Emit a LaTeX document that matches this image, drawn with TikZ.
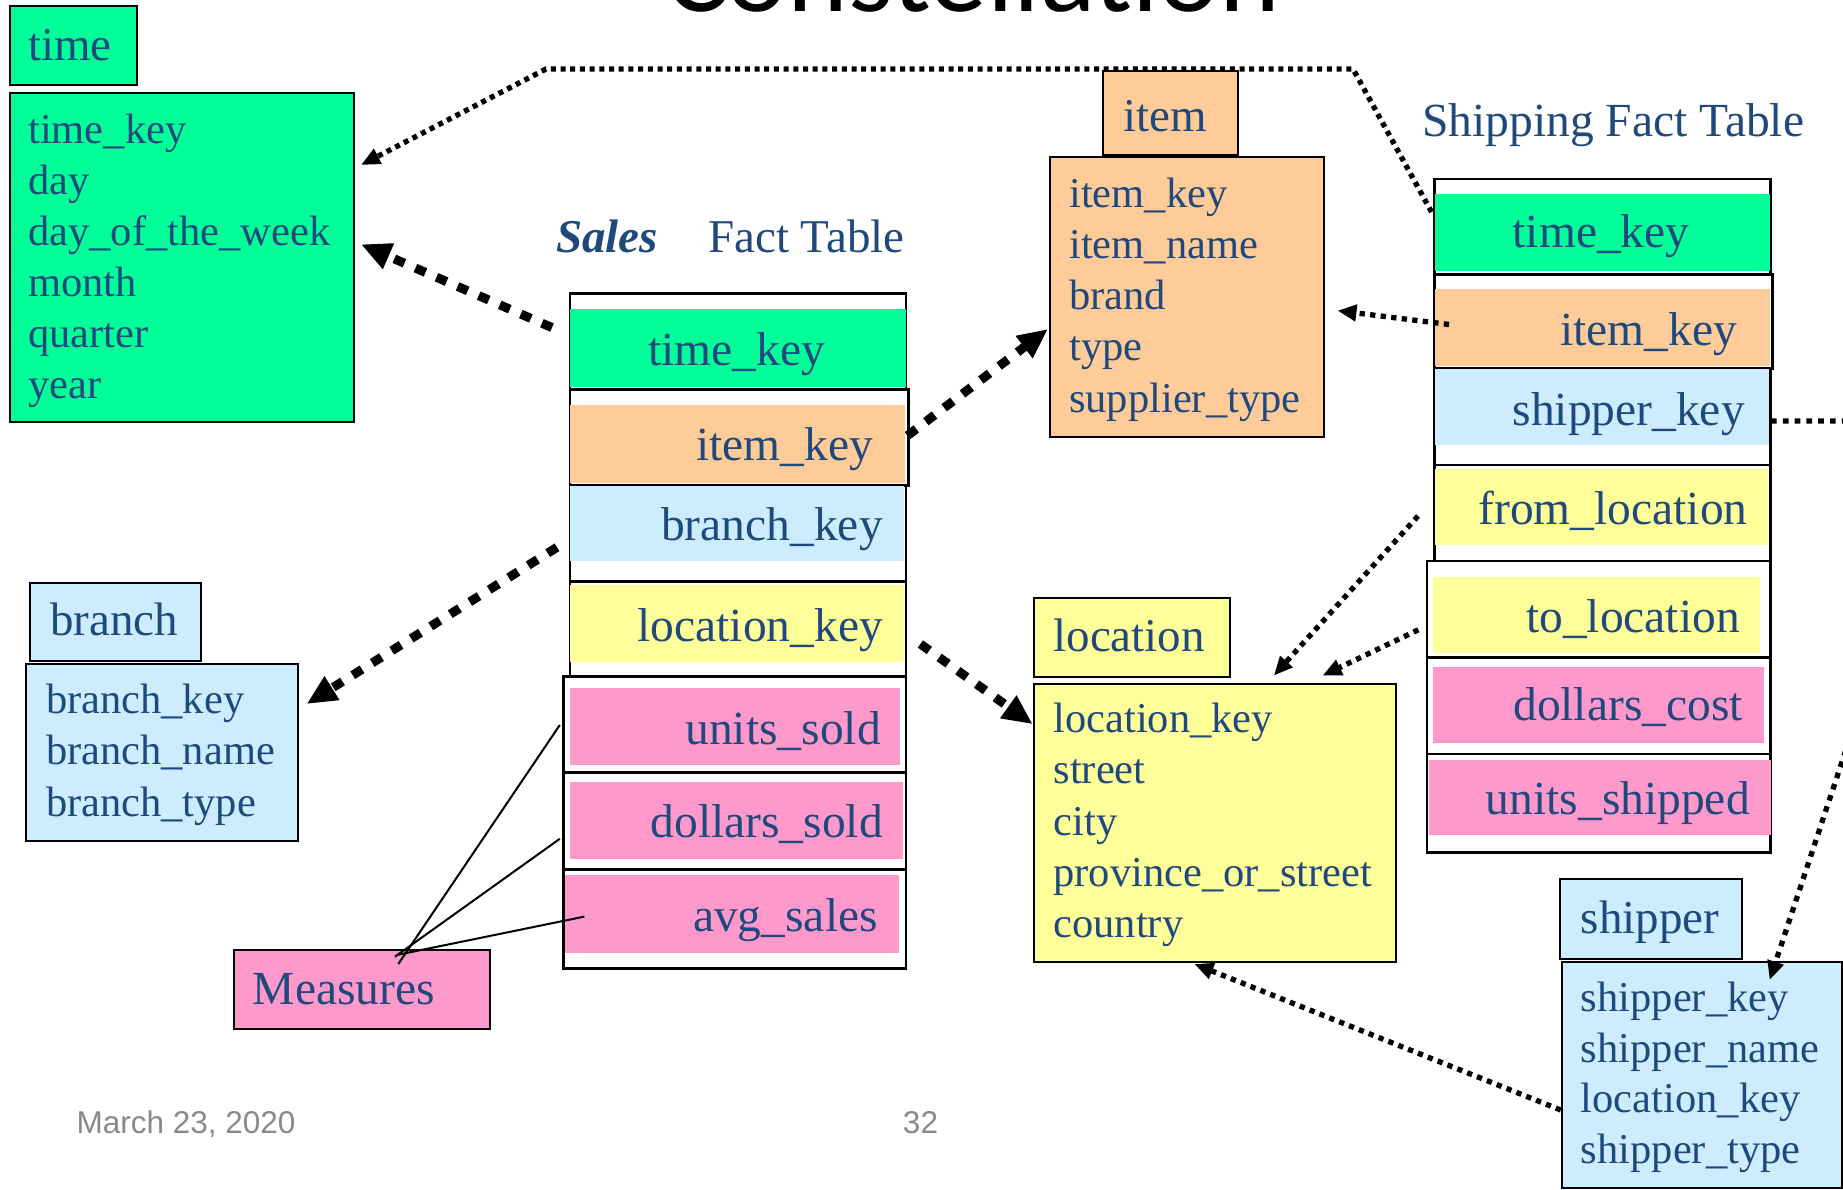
\documentclass[tikz,border=0pt]{standalone}
\usepackage{fontspec}
\setmainfont{Liberation Serif}
\newfontfamily\headfont{Carlito}
\newfontfamily\footfont{Liberation Sans}
\usetikzlibrary{arrows.meta}

\definecolor{keygreen}{RGB}{0,255,153}
\definecolor{itemorange}{RGB}{255,204,153}
\definecolor{branchblue}{RGB}{204,236,255}
\definecolor{locyellow}{RGB}{255,255,153}
\definecolor{measpink}{RGB}{255,153,204}
\definecolor{inkblue}{RGB}{31,73,125}
\definecolor{footgray}{RGB}{137,137,137}

\newcommand\fsz[1]{\fontsize{#1pt}{#1pt}\selectfont}
% rectangle node given by its corners: name, style, x1, y1, x2, y2
\newcommand\tabbox[6]{\node[#2, anchor=north west, minimum width={(#5-#3)*1pt}, minimum height={(#6-#4)*1pt}] (#1) at (#3,#4) {};}

\tikzset{
  dimbox/.style={draw=black, line width=2pt, inner sep=0pt},
  rowframe/.style={draw=black, line width=2.5pt, fill=white, inner sep=0pt},
  colband/.style={draw=none, inner sep=0pt},
  fieldtxt/.style={inner sep=0pt, text=inkblue, font=\fsz{42.5}},
  hdrtxt/.style={inner sep=0pt, text=inkblue, font=\fsz{47}},
  keytxt/.style={inner sep=0pt, text=inkblue, font=\fsz{47.5}},
  dotlink/.style={line width=5.3pt, dash pattern=on 5.3pt off 5.3pt, -{Triangle[length=19pt,width=16pt]}},
  thicklink/.style={line width=9pt, dash pattern=on 11pt off 12pt, -{Triangle[length=30pt,width=26pt]}},
  measline/.style={line width=2pt},
}

\begin{document}
\begin{tikzpicture}[x=1pt, y=-1pt]
\useasboundingbox (0,0) rectangle (1843,1189);
\clip (0,0) rectangle (1843,1189);

% slide title, only its lower edge lies inside the frame
\node[inner sep=0pt, anchor=base, font=\headfont\fsz{115.5}] (title) at (973,11) {Constellation};

% ---------- time dimension ----------
\tabbox{timeHead}{dimbox, fill=keygreen}{8.8}{4.9}{135.7}{83.7}
\tabbox{timeBody}{dimbox, fill=keygreen}{8.8}{91.7}{353}{421}
\node[hdrtxt, anchor=base west] (timeName) at (28,60.6) {time};
\foreach \w [count=\i from 0] in {time\_key,day,day\_of\_the\_week,month,quarter,year}
  \node[fieldtxt, anchor=base west] (timeF\i) at (28,143+51*\i) {\w};

% ---------- item dimension ----------
\tabbox{itemHead}{dimbox, fill=itemorange}{1101.5}{70}{1237}{154}
\tabbox{itemBody}{dimbox, fill=itemorange}{1048.6}{156.4}{1322.6}{435.6}
\node[hdrtxt, anchor=base west] (itemName) at (1123.5,131) {item};
\foreach \w [count=\i from 0] in {item\_key,item\_name,brand,type,supplier\_type}
  \node[fieldtxt, anchor=base west] (itemF\i) at (1069,207.6+51.1*\i) {\w};

% ---------- branch dimension ----------
\tabbox{branchHead}{dimbox, fill=branchblue}{28.8}{582}{199.7}{659.7}
\tabbox{branchBody}{dimbox, fill=branchblue}{24.7}{663.4}{296.6}{839.5}
\node[hdrtxt, anchor=base west] (branchName) at (50,635) {branch};
\foreach \w [count=\i from 0] in {branch\_key,branch\_name,branch\_type}
  \node[fieldtxt, anchor=base west] (branchF\i) at (45.8,713.5+51.25*\i) {\w};

% ---------- location dimension ----------
\tabbox{locHead}{dimbox, fill=locyellow}{1033.3}{597}{1228.5}{675.6}
\tabbox{locBody}{dimbox, fill=locyellow}{1033.3}{683.2}{1395}{961}
\node[hdrtxt, anchor=base west] (locName) at (1053.3,651) {location};
\foreach \w [count=\i from 0] in {location\_key,street,city,province\_or\_street,country}
  \node[fieldtxt, anchor=base west] (locF\i) at (1053.3,732.5+51.25*\i) {\w};

% ---------- shipper dimension ----------
\tabbox{shipHead}{dimbox, fill=branchblue}{1559}{878}{1741}{957.6}
\tabbox{shipBody}{dimbox, fill=branchblue}{1560.7}{960.6}{1841}{1187}
\node[hdrtxt, anchor=base west] (shipName) at (1580.7,933) {shipper};
\foreach \w [count=\i from 0] in {shipper\_key,shipper\_name,location\_key,shipper\_type}
  \node[fieldtxt, anchor=base west] (shipF\i) at (1580.7,1011.5+50.7*\i) {\w};

% ---------- sales fact table ----------
\node[inner sep=0pt, text=inkblue, font=\fsz{47}\bfseries\itshape, anchor=base west] (salesWord) at (556,252) {Sales};
\node[inner sep=0pt, text=inkblue, font=\fsz{47}, anchor=base west] (salesTitle) at (708,252) {Fact Table};

\tabbox{sA}{rowframe}{568.6}{292}{904.5}{388}
\tabbox{sB}{rowframe}{568.6}{388}{907}{484}
\tabbox{sC}{rowframe}{568.6}{484}{904.5}{580}
\tabbox{sD}{rowframe}{568.6}{580}{904.5}{675}
\tabbox{sE}{rowframe}{562}{675}{904.5}{771}
\tabbox{sF}{rowframe}{562}{771}{904.5}{868}
\tabbox{sG}{rowframe}{562}{868}{904.5}{967}

\tabbox{sTime}{colband, fill=keygreen}{570}{309}{905.7}{386.4}
\tabbox{sItem}{colband, fill=itemorange}{570}{404.5}{905}{483}
\tabbox{sBranch}{colband, fill=branchblue}{570}{485.5}{904}{561}
\tabbox{sLoc}{colband, fill=locyellow}{570}{585}{904}{662}
\tabbox{sUnits}{colband, fill=measpink}{570}{688}{900}{765}
\tabbox{sDollars}{colband, fill=measpink}{570}{782}{903}{858.5}
\tabbox{sAvg}{colband, fill=measpink}{565}{875}{899}{952.6}

\node[keytxt, anchor=base] (sTimeT) at (736.5,365.5) {time\_key};
\node[keytxt, anchor=base east] (sItemT) at (873,460) {item\_key};
\node[keytxt, anchor=base east] (sBranchT) at (883,540) {branch\_key};
\node[keytxt, anchor=base east] (sLocT) at (883,641.4) {location\_key};
\node[keytxt, anchor=base east] (sUnitsT) at (881,744) {units\_sold};
\node[keytxt, anchor=base east] (sDollarsT) at (883,837) {dollars\_sold};
\node[keytxt, anchor=base east] (sAvgT) at (878,931) {avg\_sales};

% ---------- shipping fact table ----------
\node[keytxt, anchor=base west] (shipTitle) at (1422,136.4) {Shipping Fact Table};

\tabbox{hA}{rowframe}{1433}{177.5}{1769.3}{273}
\tabbox{hB}{rowframe}{1433}{273}{1771}{367}
\tabbox{hC}{rowframe}{1433}{367}{1769}{463.6}
\tabbox{hD}{rowframe}{1433}{463.6}{1769}{559.6}
\tabbox{hE}{rowframe}{1425.7}{559.6}{1769}{656.4}
\tabbox{hF}{rowframe}{1425.7}{656.4}{1769}{752.8}
\tabbox{hG}{rowframe}{1425.7}{752.8}{1769}{851}

\tabbox{hTime}{colband, fill=keygreen}{1434.5}{193.6}{1770}{270.3}
\tabbox{hItem}{colband, fill=itemorange}{1434.5}{289}{1770}{365.8}
\tabbox{hShipper}{colband, fill=branchblue}{1434.5}{369}{1769}{445.2}
\tabbox{hFrom}{colband, fill=locyellow}{1434.5}{469}{1767.7}{545}
\tabbox{hTo}{colband, fill=locyellow}{1433}{577}{1760}{652.8}
\tabbox{hCost}{colband, fill=measpink}{1433}{666.5}{1764}{742.3}
\tabbox{hUnits}{colband, fill=measpink}{1429}{759.3}{1771}{835}

\node[keytxt, anchor=base] (hTimeT) at (1601,247.8) {time\_key};
\node[keytxt, anchor=base east] (hItemT) at (1737.3,345) {item\_key};
\node[keytxt, anchor=base east] (hShipperT) at (1745,425.5) {shipper\_key};
\node[keytxt, anchor=base east] (hFromT) at (1747.7,524) {from\_location};
\node[keytxt, anchor=base east] (hToT) at (1740,632) {to\_location};
\node[keytxt, anchor=base east] (hCostT) at (1743,720.7) {dollars\_cost};
\node[keytxt, anchor=base east] (hUnitsT) at (1750,814) {units\_shipped};

% ---------- measures callout ----------
\tabbox{measures}{dimbox, fill=measpink}{233}{949.3}{488.7}{1028}
\node[keytxt, anchor=base west] (measuresT) at (252.6,1004) {Measures};
\coordinate (mTip1) at (398.3,964);
\coordinate (mTip2) at (395,956.7);
\coordinate (mTip3) at (396.7,955);
\coordinate (mUnits) at (559.8,725);
\coordinate (mDollars) at (559.8,838.8);
\coordinate (mAvg) at (584.4,916.6);
\draw[measline] (mTip1) -- (mUnits);
\draw[measline] (mTip2) -- (mDollars);
\draw[measline] (mTip3) -- (mAvg);

% ---------- foreign key links ----------
% shipping time_key -> time
\coordinate (hTimeOut) at (1431.5,212);
\coordinate (topRight) at (1353,69);
\coordinate (topLeft) at (546,69);
\coordinate (timeIn1) at (361,165);
\draw[dotlink, dash pattern=on 5pt off 4.7pt] (hTimeOut) -- (topRight) -- (topLeft) -- (timeIn1);

% sales time_key -> time
\coordinate (sTimeOut) at (552,327.6);
\coordinate (timeIn2) at (361,244.3);
\draw[thicklink] (sTimeOut) -- (timeIn2);

% sales item_key -> item
\coordinate (sItemOut) at (907.5,435.6);
\coordinate (itemIn1) at (1048,329);
\draw[thicklink] (sItemOut) -- (itemIn1);

% shipping item_key -> item
\coordinate (hItemOut) at (1449,324.5);
\coordinate (itemIn2) at (1337.5,310.6);
\draw[dotlink] (hItemOut) -- (itemIn2);

% sales branch_key -> branch
\coordinate (sBranchOut) at (557,547.3);
\coordinate (branchIn) at (306.6,704);
\draw[thicklink] (sBranchOut) -- (branchIn);

% sales location_key -> location
\coordinate (sLocOut) at (920.4,644);
\coordinate (locIn1) at (1032.7,724.2);
\draw[thicklink] (sLocOut) -- (locIn1);

% shipping from_location / to_location -> location
\coordinate (hFromOut) at (1418,516);
\coordinate (locIn2) at (1273.8,675.6);
\draw[dotlink] (hFromOut) -- (locIn2);
\coordinate (hToOut) at (1418.3,629.8);
\coordinate (locIn3) at (1322.6,675.6);
\draw[dotlink] (hToOut) -- (locIn3);

% shipping shipper_key -> shipper (routed past the right edge)
\coordinate (hShipOut) at (1771,421);
\coordinate (farRight) at (1955,421);
\coordinate (shipIn) at (1769.6,980);
\draw[dotlink, dash pattern=on 5.7pt off 6.1pt] (hShipOut) -- (farRight) -- (shipIn);

% shipper location_key -> location
\coordinate (shipLocOut) at (1560.7,1110);
\coordinate (locIn4) at (1194.4,964);
\draw[dotlink] (shipLocOut) -- (locIn4);

% ---------- footer ----------
\node[inner sep=0pt, anchor=base west, text=footgray, font=\footfont\fsz{31.5}] (date) at (76.4,1133) {March 23, 2020};
\node[inner sep=0pt, anchor=base, text=footgray, font=\footfont\fsz{31.5}] (pageNo) at (920.5,1133) {32};
\end{tikzpicture}
\end{document}
